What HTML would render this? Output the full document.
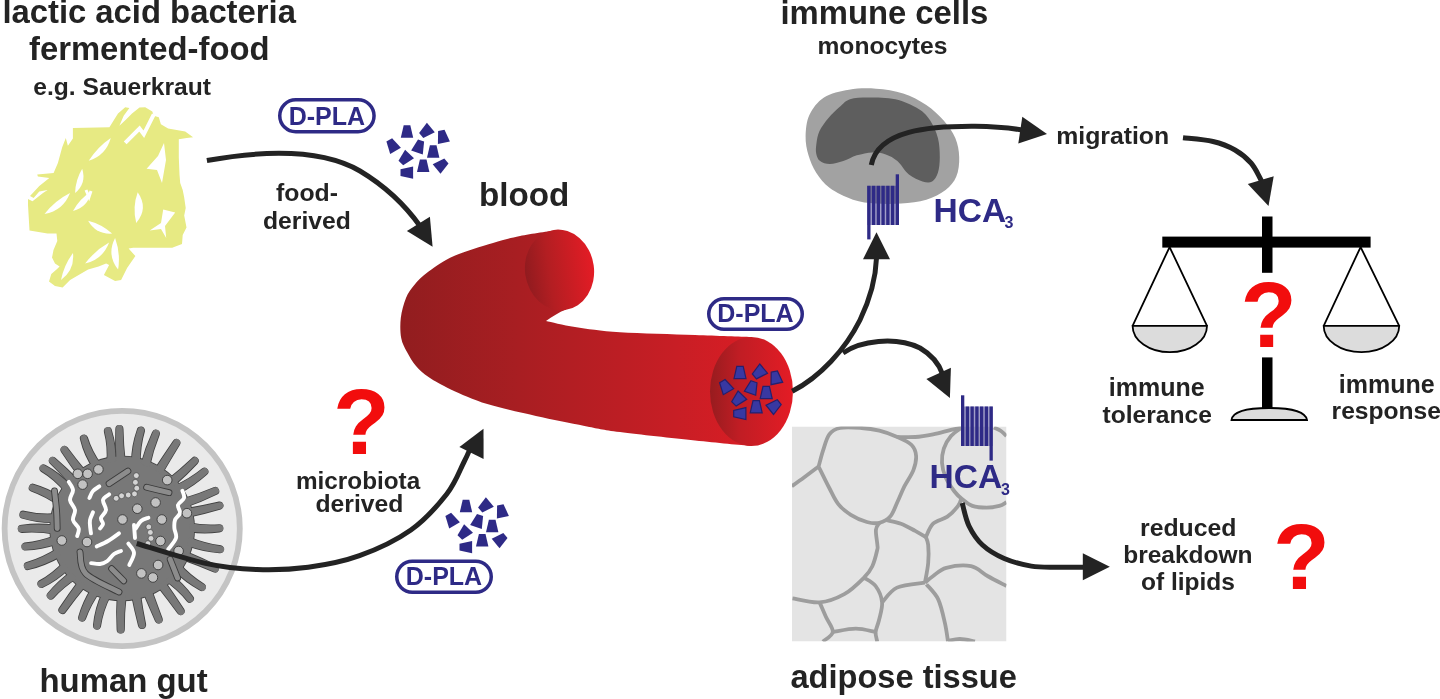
<!DOCTYPE html>
<html><head><meta charset="utf-8"><style>
html,body{margin:0;padding:0;background:#fff;width:1440px;height:699px;overflow:hidden}
svg{display:block}
text{font-family:"Liberation Sans",sans-serif;font-weight:bold}
svg{will-change:transform}
</style></head><body>
<svg width="1440" height="699" viewBox="0 0 1440 699">
<defs>
<linearGradient id="gbody" x1="400" y1="0" x2="795" y2="0" gradientUnits="userSpaceOnUse">
<stop offset="0" stop-color="#911d1f"/><stop offset="0.3" stop-color="#a81e22"/><stop offset="0.7" stop-color="#c81e25"/><stop offset="1" stop-color="#e31c24"/></linearGradient>
<linearGradient id="gcap1" x1="525" y1="0" x2="594" y2="0" gradientUnits="userSpaceOnUse">
<stop offset="0" stop-color="#901b1f"/><stop offset="0.35" stop-color="#b31e22"/><stop offset="1" stop-color="#e41c25"/></linearGradient>
<linearGradient id="gcap2" x1="710" y1="0" x2="793" y2="0" gradientUnits="userSpaceOnUse">
<stop offset="0" stop-color="#971c1f"/><stop offset="0.35" stop-color="#c01d24"/><stop offset="1" stop-color="#e41c25"/></linearGradient>
</defs>
<polygon fill="#e7ea83" points="72.9,127.9 109.4,127.2 118,113.6 125.2,107.2 129.4,107.9 123.7,115.7 119.4,125.8 125.5,120 132,113.5 139.5,107.6 145.2,107.2 152.3,111.4 153.8,115.7 158.8,117.2 160.9,124.3 168.1,128.6 185.2,131.5 193.1,137.2 186.7,137.9 178.8,139.3 178.8,157.2 179.5,174.4 180.2,183 182.7,190 184.2,197.5 185.7,208 184.2,215.5 186.5,227.6 182.7,235.1 182,244.1 172.2,247.8 133.2,247.8 128.6,248.6 135.4,256.1 127.1,268.1 121.1,280.1 115.1,280.9 103.9,274.9 109.1,265.1 106.1,263.6 98.6,266.6 88.1,269.6 70.1,280.1 62.6,287.6 55,286.1 49,281.6 51.3,274.1 56.5,269.6 59.6,266.6 55,263.6 52,257.6 53.5,250.1 57.3,241.1 56.5,233.6 47.5,233.6 29.5,230.6 28,205 28,199 32.5,201.3 43,193 47.5,190 39.3,191.6 33.6,198 30,196 39.3,186 49.3,178 37.9,176.5 37.2,174.4 53.6,173 57.9,163 62.2,147.2 65.8,137.9 67.9,145.8 72.9,138.6"/>
<path fill="#fff" d="M88.7,160.8 Q105.9,155.3 110.8,137.9 Q97.3,147.0 88.7,160.8Z"/>
<path fill="#fff" d="M44.5,214 Q63.2,210.7 70,193 Q54.9,200.6 44.5,214Z"/>
<path fill="#fff" d="M73,211 Q88.2,207.0 91,191.5 Q79.5,198.9 73,211Z"/>
<path fill="#fff" d="M136.2,223 Q148.8,208.2 137.7,192.3 Q132.2,207.4 136.2,223Z"/>
<path fill="#fff" d="M88.1,220.8 Q96.1,234.7 112.1,233.6 Q101.7,224.2 88.1,220.8Z"/>
<path fill="#fff" d="M85.1,263.6 Q102.7,259.5 109.1,242.6 Q94.9,250.5 85.1,263.6Z"/>
<path fill="#fff" d="M115.1,238 Q106.4,254.8 118.1,269.6 Q120.7,253.4 115.1,238Z"/>
<path fill="#fff" d="M61,280 Q74.8,270.0 73,253 Q63.9,265.1 61,280Z"/>
<path fill="#fff" d="M75.1,193 Q86.8,183.2 82.2,168.7 Q75.4,179.9 75.1,193Z"/>
<polyline points="125.2,142.9 139.5,128.6 143.8,134.3 153.8,114.3" fill="none" stroke="#fff" stroke-width="4" stroke-linejoin="miter"/>
<polygon fill="#fff" points="146.6,168.7 158,156 164,143 166,160 162,183 157,170"/>
<polygon fill="#fff" points="149.7,230.6 161,223 163.2,209.5 175.2,212.5 165,226 166.2,238 161,229"/>
<polyline points="86,190 89,197 91,191" fill="none" stroke="#fff" stroke-width="3"/>
<circle cx="122.2" cy="528.5" r="117.6" fill="#eaeaea" stroke="#c4c4c4" stroke-width="5.8"/>
<circle cx="122.2" cy="528.5" r="72.8" fill="#404040"/>
<path d="M125.7,461.4 Q123.8,445.3 123.5,429.1 A4.1,4.1 0 0 0 115.3,429.3 Q114.7,445.5 115.7,461.6 Z" fill="#404040"/>
<path d="M140.8,463.9 Q140.3,447.1 144.9,431.4 A4.1,4.1 0 0 0 136.8,429.7 Q131.3,445.3 131.0,461.9 Z" fill="#404040"/>
<path d="M149.9,467.3 Q153.4,450.7 159.7,435.0 A4.1,4.1 0 0 0 152.0,432.2 Q144.9,447.5 140.5,463.9 Z" fill="#404040"/>
<path d="M162.3,474.6 Q171.0,459.7 179.9,445.1 A4.1,4.1 0 0 0 173.0,440.7 Q163.3,454.9 153.9,469.3 Z" fill="#404040"/>
<path d="M174.4,486.2 Q186.5,475.7 197.5,463.9 A4.1,4.1 0 0 0 191.8,458.0 Q180.2,469.0 167.5,478.9 Z" fill="#404040"/>
<path d="M179.7,493.7 Q194.4,486.2 206.7,475.1 A4.1,4.1 0 0 0 201.9,468.4 Q189.1,478.8 173.8,485.5 Z" fill="#404040"/>
<path d="M186.1,507.6 Q201.8,502.1 216.7,494.8 A4.1,4.1 0 0 0 213.6,487.2 Q198.3,493.7 182.2,498.4 Z" fill="#404040"/>
<path d="M188.5,517.8 Q204.8,514.2 220.8,509.5 A4.1,4.1 0 0 0 218.9,501.6 Q202.7,505.4 186.2,508.1 Z" fill="#404040"/>
<path d="M189.3,532.3 Q204.3,534.6 219.3,532.4 A4.1,4.1 0 0 0 219.2,524.2 Q204.2,525.5 189.1,522.3 Z" fill="#404040"/>
<path d="M187.0,546.3 Q202.7,552.0 219.4,553.3 A4.1,4.1 0 0 0 221.0,545.3 Q204.5,543.1 188.9,536.5 Z" fill="#404040"/>
<path d="M181.6,559.9 Q197.7,565.5 213.3,572.3 A4.1,4.1 0 0 0 216.6,564.8 Q201.4,557.2 185.6,550.7 Z" fill="#404040"/>
<path d="M174.0,571.3 Q185.3,582.9 199.6,590.4 A4.1,4.1 0 0 0 204.3,583.7 Q190.6,575.5 179.8,563.1 Z" fill="#404040"/>
<path d="M164.3,580.8 Q177.2,589.6 186.8,601.4 A4.1,4.1 0 0 0 192.8,595.8 Q183.8,583.4 171.6,574.0 Z" fill="#404040"/>
<path d="M156.7,586.2 Q167.3,599.6 177.4,613.5 A4.1,4.1 0 0 0 184.1,608.8 Q174.8,594.4 164.9,580.4 Z" fill="#404040"/>
<path d="M142.5,592.5 Q148.7,606.9 155.0,621.2 A4.1,4.1 0 0 0 162.6,618.2 Q157.1,603.5 151.8,588.8 Z" fill="#404040"/>
<path d="M131.0,595.1 Q134.0,610.6 138.0,625.8 A4.1,4.1 0 0 0 146.1,624.1 Q142.9,608.7 140.8,593.1 Z" fill="#404040"/>
<path d="M116.7,595.5 Q115.6,612.4 116.6,629.4 A4.1,4.1 0 0 0 124.8,629.5 Q124.7,612.5 126.7,595.5 Z" fill="#404040"/>
<path d="M101.8,592.5 Q94.5,608.1 93.0,625.1 A4.1,4.1 0 0 0 100.9,627.0 Q103.4,610.2 111.5,594.8 Z" fill="#404040"/>
<path d="M91.0,588.0 Q82.7,601.1 78.4,615.9 A4.1,4.1 0 0 0 85.9,619.2 Q91.1,604.7 100.2,592.0 Z" fill="#404040"/>
<path d="M78.7,579.7 Q68.6,593.4 59.2,607.5 A4.1,4.1 0 0 0 65.8,612.4 Q76.0,598.7 86.8,585.6 Z" fill="#404040"/>
<path d="M70.5,571.4 Q57.8,580.5 48.0,592.5 A4.1,4.1 0 0 0 53.7,598.4 Q64.2,587.1 77.4,578.6 Z" fill="#404040"/>
<path d="M63.5,561.2 Q52.7,573.1 38.9,580.6 A4.1,4.1 0 0 0 43.4,587.4 Q57.7,580.7 69.0,569.5 Z" fill="#404040"/>
<path d="M57.8,547.5 Q43.0,557.1 26.5,562.1 A4.1,4.1 0 0 0 29.4,569.8 Q46.2,565.6 61.3,556.9 Z" fill="#404040"/>
<path d="M55.3,534.9 Q40.2,540.8 24.4,542.6 A4.1,4.1 0 0 0 25.8,550.6 Q41.8,549.8 57.0,544.8 Z" fill="#404040"/>
<path d="M55.1,524.7 Q38.4,522.5 21.8,524.7 A4.1,4.1 0 0 0 21.9,532.9 Q38.6,531.6 55.3,534.7 Z" fill="#404040"/>
<path d="M56.8,513.1 Q40.0,514.6 24.1,510.7 A4.1,4.1 0 0 0 22.8,518.8 Q38.6,523.6 55.2,523.0 Z" fill="#404040"/>
<path d="M62.8,497.1 Q49.5,488.4 34.3,484.0 A4.1,4.1 0 0 0 31.0,491.5 Q45.8,496.8 58.8,506.3 Z" fill="#404040"/>
<path d="M71.1,484.9 Q60.1,472.6 45.7,465.1 A4.1,4.1 0 0 0 40.9,471.7 Q54.8,479.9 65.2,493.0 Z" fill="#404040"/>
<path d="M77.5,478.3 Q66.9,467.6 55.4,457.7 A4.1,4.1 0 0 0 49.7,463.5 Q60.6,474.1 70.6,485.5 Z" fill="#404040"/>
<path d="M86.8,471.4 Q76.7,459.7 67.6,447.3 A4.1,4.1 0 0 0 61.0,452.1 Q69.4,465.0 78.7,477.3 Z" fill="#404040"/>
<path d="M101.8,464.5 Q92.3,451.8 87.8,437.1 A4.1,4.1 0 0 0 80.2,440.2 Q83.8,455.2 92.5,468.2 Z" fill="#404040"/>
<path d="M116.2,461.6 Q116.8,445.6 112.0,430.5 A4.1,4.1 0 0 0 103.9,431.9 Q107.8,447.1 106.3,463.2 Z" fill="#404040"/>
<circle cx="122.2" cy="528.5" r="72" fill="#787878"/>
<path d="M124.9,461.4 Q123.0,444.9 122.7,428.3 A3.3,3.3 0 0 0 116.1,428.5 Q115.5,445.1 116.5,461.6 Z" fill="#787878"/>
<path d="M140.0,463.8 Q139.6,446.6 144.2,430.4 A3.3,3.3 0 0 0 137.8,429.1 Q132.2,445.0 131.8,462.1 Z" fill="#787878"/>
<path d="M149.1,467.0 Q152.8,450.0 159.2,434.0 A3.3,3.3 0 0 0 153.0,431.7 Q145.8,447.4 141.2,464.1 Z" fill="#787878"/>
<path d="M161.7,474.2 Q170.5,459.0 179.7,444.0 A3.3,3.3 0 0 0 174.1,440.4 Q164.2,455.0 154.6,469.7 Z" fill="#787878"/>
<path d="M173.8,485.6 Q186.2,474.8 197.5,462.8 A3.3,3.3 0 0 0 193.0,458.0 Q181.1,469.4 168.1,479.5 Z" fill="#787878"/>
<path d="M179.2,493.0 Q194.3,485.3 206.8,474.0 A3.3,3.3 0 0 0 203.0,468.6 Q189.9,479.2 174.3,486.2 Z" fill="#787878"/>
<path d="M185.8,506.9 Q201.8,501.2 217.1,493.7 A3.3,3.3 0 0 0 214.6,487.6 Q199.0,494.3 182.6,499.1 Z" fill="#787878"/>
<path d="M188.3,517.0 Q205.0,513.3 221.4,508.6 A3.3,3.3 0 0 0 219.9,502.2 Q203.3,506.0 186.4,508.9 Z" fill="#787878"/>
<path d="M189.3,531.5 Q204.7,533.7 220.1,531.6 A3.3,3.3 0 0 0 220.0,525.0 Q204.6,526.2 189.1,523.1 Z" fill="#787878"/>
<path d="M187.1,545.5 Q203.3,551.3 220.3,552.7 A3.3,3.3 0 0 0 221.6,546.2 Q204.7,544.0 188.8,537.3 Z" fill="#787878"/>
<path d="M181.9,559.1 Q198.4,564.9 214.4,571.9 A3.3,3.3 0 0 0 217.0,565.8 Q201.4,558.1 185.3,551.4 Z" fill="#787878"/>
<path d="M174.5,570.6 Q186.1,582.5 200.7,590.2 A3.3,3.3 0 0 0 204.5,584.8 Q190.4,576.4 179.3,563.7 Z" fill="#787878"/>
<path d="M164.9,580.3 Q178.0,589.4 187.9,601.4 A3.3,3.3 0 0 0 192.7,596.9 Q183.5,584.2 171.1,574.5 Z" fill="#787878"/>
<path d="M157.4,585.7 Q168.2,599.5 178.5,613.7 A3.3,3.3 0 0 0 183.9,609.9 Q174.4,595.1 164.2,580.9 Z" fill="#787878"/>
<path d="M143.3,592.2 Q149.6,607.0 156.0,621.7 A3.3,3.3 0 0 0 162.1,619.2 Q156.5,604.2 151.1,589.1 Z" fill="#787878"/>
<path d="M131.8,594.9 Q134.9,610.8 139.0,626.4 A3.3,3.3 0 0 0 145.4,625.1 Q142.2,609.2 140.0,593.2 Z" fill="#787878"/>
<path d="M117.5,595.5 Q116.4,612.8 117.4,630.2 A3.3,3.3 0 0 0 124.0,630.3 Q123.9,612.9 125.9,595.5 Z" fill="#787878"/>
<path d="M102.6,592.7 Q95.2,608.7 93.6,626.1 A3.3,3.3 0 0 0 100.0,627.6 Q102.5,610.4 110.8,594.7 Z" fill="#787878"/>
<path d="M91.8,588.3 Q83.3,601.8 78.8,617.0 A3.3,3.3 0 0 0 84.9,619.6 Q90.2,604.8 99.5,591.7 Z" fill="#787878"/>
<path d="M79.4,580.2 Q69.0,594.2 59.4,608.7 A3.3,3.3 0 0 0 64.7,612.5 Q75.1,598.6 86.1,585.1 Z" fill="#787878"/>
<path d="M71.0,572.0 Q58.1,581.4 47.9,593.6 A3.3,3.3 0 0 0 52.5,598.4 Q63.3,586.8 76.9,578.0 Z" fill="#787878"/>
<path d="M63.9,561.9 Q52.8,573.9 38.7,581.7 A3.3,3.3 0 0 0 42.3,587.2 Q56.9,580.2 68.6,568.9 Z" fill="#787878"/>
<path d="M58.1,548.3 Q42.9,558.0 26.1,563.1 A3.3,3.3 0 0 0 28.4,569.3 Q45.6,565.0 61.0,556.1 Z" fill="#787878"/>
<path d="M55.5,535.7 Q40.0,541.7 23.8,543.5 A3.3,3.3 0 0 0 24.9,550.0 Q41.2,549.0 56.9,544.0 Z" fill="#787878"/>
<path d="M55.1,525.5 Q38.0,523.3 21.0,525.5 A3.3,3.3 0 0 0 21.1,532.1 Q38.1,530.8 55.3,533.9 Z" fill="#787878"/>
<path d="M56.7,513.9 Q39.5,515.3 23.2,511.4 A3.3,3.3 0 0 0 22.2,517.9 Q38.3,522.7 55.4,522.2 Z" fill="#787878"/>
<path d="M62.5,497.8 Q48.8,489.0 33.2,484.4 A3.3,3.3 0 0 0 30.6,490.4 Q45.8,495.9 59.1,505.5 Z" fill="#787878"/>
<path d="M70.6,485.6 Q59.4,473.0 44.6,465.2 A3.3,3.3 0 0 0 40.7,470.6 Q54.9,479.1 65.6,492.4 Z" fill="#787878"/>
<path d="M77.0,478.9 Q66.0,467.9 54.3,457.7 A3.3,3.3 0 0 0 49.7,462.4 Q60.8,473.2 71.1,484.9 Z" fill="#787878"/>
<path d="M86.1,471.9 Q75.9,459.8 66.5,447.1 A3.3,3.3 0 0 0 61.2,451.0 Q69.8,464.2 79.3,476.8 Z" fill="#787878"/>
<path d="M101.1,464.8 Q91.4,451.8 86.8,436.7 A3.3,3.3 0 0 0 80.7,439.1 Q84.4,454.6 93.3,467.9 Z" fill="#787878"/>
<path d="M115.4,461.7 Q115.9,445.3 111.1,429.9 A3.3,3.3 0 0 0 104.5,431.0 Q108.5,446.6 107.1,463.1 Z" fill="#787878"/>
<path d="M109.1,483.7 C112.2,481.6 124.8,473.3 127.9,471.2 " stroke="#3a3a3a" stroke-width="6.8" stroke-linecap="round" fill="none"/>
<path d="M109.1,483.7 C112.2,481.6 124.8,473.3 127.9,471.2 " stroke="#8c8c8c" stroke-width="5" stroke-linecap="round" fill="none"/>
<path d="M146.6,487.3 C150.3,488.2 165.3,491.7 169.0,492.6 " stroke="#3a3a3a" stroke-width="6.8" stroke-linecap="round" fill="none"/>
<path d="M146.6,487.3 C150.3,488.2 165.3,491.7 169.0,492.6 " stroke="#8c8c8c" stroke-width="5" stroke-linecap="round" fill="none"/>
<path d="M54.5,490.8 C54.8,494.0 56.0,503.7 56.5,510.0 C57.0,516.3 57.1,525.3 57.2,528.4 " stroke="#3a3a3a" stroke-width="6.8" stroke-linecap="round" fill="none"/>
<path d="M54.5,490.8 C54.8,494.0 56.0,503.7 56.5,510.0 C57.0,516.3 57.1,525.3 57.2,528.4 " stroke="#8c8c8c" stroke-width="5" stroke-linecap="round" fill="none"/>
<path d="M80.0,552.0 C80.9,555.6 79.1,566.7 85.6,573.4 C92.1,580.1 113.4,588.9 119.0,592.0 " stroke="#3a3a3a" stroke-width="6.8" stroke-linecap="round" fill="none"/>
<path d="M80.0,552.0 C80.9,555.6 79.1,566.7 85.6,573.4 C92.1,580.1 113.4,588.9 119.0,592.0 " stroke="#8c8c8c" stroke-width="5" stroke-linecap="round" fill="none"/>
<path d="M111.6,568.7 C113.6,570.7 121.7,578.8 123.7,580.8 " stroke="#3a3a3a" stroke-width="6.8" stroke-linecap="round" fill="none"/>
<path d="M111.6,568.7 C113.6,570.7 121.7,578.8 123.7,580.8 " stroke="#8c8c8c" stroke-width="5" stroke-linecap="round" fill="none"/>
<path d="M170.2,559.4 C171.4,562.5 176.4,574.9 177.6,578.0 " stroke="#3a3a3a" stroke-width="6.8" stroke-linecap="round" fill="none"/>
<path d="M170.2,559.4 C171.4,562.5 176.4,574.9 177.6,578.0 " stroke="#8c8c8c" stroke-width="5" stroke-linecap="round" fill="none"/>
<path d="M68.8,481.9 C69.5,483.2 72.8,487.0 73.0,490.0 C73.2,493.0 69.7,496.7 70.0,500.0 C70.3,503.3 74.5,506.7 75.0,510.0 C75.5,513.3 72.4,516.9 73.0,520.0 C73.6,523.1 78.0,525.7 78.7,528.4 C79.4,531.1 77.5,534.7 77.2,536.0 " stroke="#fff" stroke-width="3.9" stroke-linecap="round" fill="none"/>
<path d="M89.4,498.0 C90.0,496.8 91.3,492.9 93.0,491.0 C94.7,489.1 98.2,487.2 99.3,486.4 " stroke="#fff" stroke-width="3.9" stroke-linecap="round" fill="none"/>
<path d="M109.1,494.4 C108.1,495.3 103.5,497.4 103.0,500.0 C102.5,502.6 106.3,507.0 106.0,510.0 C105.7,513.0 101.5,515.7 101.0,518.0 C100.5,520.3 103.2,522.3 103.0,524.0 C102.8,525.7 100.6,527.7 100.1,528.4 " stroke="#fff" stroke-width="3.9" stroke-linecap="round" fill="none"/>
<path d="M93.0,512.3 C92.5,513.6 90.5,517.3 90.0,520.0 C89.5,522.7 90.1,526.2 90.3,528.4 C90.5,530.6 90.9,532.6 91.0,533.4 " stroke="#fff" stroke-width="3.9" stroke-linecap="round" fill="none"/>
<path d="M182.4,490.8 C182.7,492.0 184.7,495.6 184.0,498.0 C183.3,500.4 178.7,502.5 178.0,505.0 C177.3,507.5 180.5,510.5 180.0,513.0 C179.5,515.5 175.9,517.4 175.0,520.0 C174.1,522.6 174.2,525.4 174.4,528.4 C174.6,531.4 177.0,534.5 176.0,538.0 C175.0,541.5 169.6,547.3 168.3,549.2 " stroke="#fff" stroke-width="3.9" stroke-linecap="round" fill="none"/>
<path d="M135.9,528.4 C136.8,527.2 138.9,522.8 141.0,521.0 C143.1,519.2 147.2,518.2 148.4,517.7 " stroke="#fff" stroke-width="3.9" stroke-linecap="round" fill="none"/>
<path d="M96.7,546.4 C98.6,545.5 104.3,543.2 108.0,541.0 C111.7,538.8 117.2,534.7 119.0,533.4 " stroke="#fff" stroke-width="3.9" stroke-linecap="round" fill="none"/>
<path d="M91.1,563.1 C92.6,563.2 97.3,564.3 100.0,564.0 C102.7,563.7 104.7,563.0 107.0,561.3 C109.3,559.6 111.7,555.7 114.0,554.0 C116.3,552.3 119.8,551.5 121.0,551.0 " stroke="#fff" stroke-width="3.9" stroke-linecap="round" fill="none"/>
<path d="M128.3,543.6 C129.2,545.1 133.8,549.3 134.0,552.9 C134.2,556.5 130.1,563.0 129.3,565.0 " stroke="#fff" stroke-width="3.9" stroke-linecap="round" fill="none"/>
<path d="M134.0,525.0 C134.2,527.2 134.8,535.8 135.0,538.0 " stroke="#fff" stroke-width="3.9" stroke-linecap="round" fill="none"/>
<circle cx="77.8" cy="473.8" r="4.8" fill="#c2c2c2" stroke="#3a3a3a" stroke-width="0.9"/>
<circle cx="87.6" cy="473.8" r="4.8" fill="#c2c2c2" stroke="#3a3a3a" stroke-width="0.9"/>
<circle cx="98.4" cy="469.4" r="4.8" fill="#c2c2c2" stroke="#3a3a3a" stroke-width="0.9"/>
<circle cx="82.6" cy="484.6" r="4.8" fill="#c2c2c2" stroke="#3a3a3a" stroke-width="0.9"/>
<circle cx="167.2" cy="480.1" r="4.8" fill="#c2c2c2" stroke="#3a3a3a" stroke-width="0.9"/>
<circle cx="155.6" cy="502.5" r="4.8" fill="#c2c2c2" stroke="#3a3a3a" stroke-width="0.9"/>
<circle cx="137.3" cy="508.7" r="4.8" fill="#c2c2c2" stroke="#3a3a3a" stroke-width="0.9"/>
<circle cx="122.5" cy="519.5" r="4.8" fill="#c2c2c2" stroke="#3a3a3a" stroke-width="0.9"/>
<circle cx="161.8" cy="519.5" r="4.8" fill="#c2c2c2" stroke="#3a3a3a" stroke-width="0.9"/>
<circle cx="186.9" cy="513.2" r="4.8" fill="#c2c2c2" stroke="#3a3a3a" stroke-width="0.9"/>
<circle cx="61.8" cy="540.5" r="4.8" fill="#c2c2c2" stroke="#3a3a3a" stroke-width="0.9"/>
<circle cx="87" cy="542" r="4.8" fill="#c2c2c2" stroke="#3a3a3a" stroke-width="0.9"/>
<circle cx="160.5" cy="541" r="4.8" fill="#c2c2c2" stroke="#3a3a3a" stroke-width="0.9"/>
<circle cx="178.6" cy="551" r="4.8" fill="#c2c2c2" stroke="#3a3a3a" stroke-width="0.9"/>
<circle cx="158.1" cy="565" r="4.8" fill="#c2c2c2" stroke="#3a3a3a" stroke-width="0.9"/>
<circle cx="141.4" cy="573.4" r="4.8" fill="#c2c2c2" stroke="#3a3a3a" stroke-width="0.9"/>
<circle cx="152.9" cy="577.5" r="4.8" fill="#c2c2c2" stroke="#3a3a3a" stroke-width="0.9"/>
<circle cx="136.3" cy="475.6" r="2.9" fill="#d4d4d4" stroke="#3a3a3a" stroke-width="0.6"/>
<circle cx="135.4" cy="482.3" r="2.9" fill="#d4d4d4" stroke="#3a3a3a" stroke-width="0.6"/>
<circle cx="136.8" cy="488.2" r="2.9" fill="#d4d4d4" stroke="#3a3a3a" stroke-width="0.6"/>
<circle cx="134.5" cy="493.9" r="2.9" fill="#d4d4d4" stroke="#3a3a3a" stroke-width="0.6"/>
<circle cx="128.2" cy="495" r="2.9" fill="#d4d4d4" stroke="#3a3a3a" stroke-width="0.6"/>
<circle cx="121.6" cy="495.8" r="2.9" fill="#d4d4d4" stroke="#3a3a3a" stroke-width="0.6"/>
<circle cx="116.2" cy="498.3" r="2.9" fill="#d4d4d4" stroke="#3a3a3a" stroke-width="0.6"/>
<circle cx="148.8" cy="526.9" r="2.9" fill="#d4d4d4" stroke="#3a3a3a" stroke-width="0.6"/>
<circle cx="150.3" cy="532.4" r="2.9" fill="#d4d4d4" stroke="#3a3a3a" stroke-width="0.6"/>
<circle cx="151" cy="538.4" r="2.9" fill="#d4d4d4" stroke="#3a3a3a" stroke-width="0.6"/>
<circle cx="147.9" cy="543.6" r="2.9" fill="#d4d4d4" stroke="#3a3a3a" stroke-width="0.6"/>
<rect x="792" y="426.5" width="214.5" height="215" fill="#e4e4e4"/>
<path d="M791.8,486.2 C793.9,484.7 799.8,480.5 804.3,477.2 C808.8,473.9 816.2,468.3 818.6,466.5 " stroke="#9d9d9d" stroke-width="3.8" fill="none" stroke-linejoin="round"/>
<path d="M818.6,466.5 C819.4,463.8 821.3,455.8 823.1,450.4 C824.9,445.0 826.5,438.0 829.3,434.3 C832.1,430.6 834.7,429.1 840.1,428.0 C845.5,426.9 855.0,427.6 861.5,428.0 C868.0,428.4 873.4,429.2 879.4,430.7 C885.4,432.2 891.9,434.6 897.3,437.0 C902.7,439.4 908.5,441.9 911.6,445.0 C914.7,448.1 915.8,451.6 916.1,455.8 C916.4,460.0 915.3,465.0 913.4,470.1 C911.5,475.2 907.2,480.8 904.5,486.2 C901.8,491.6 899.7,497.2 897.3,502.3 C894.9,507.4 893.2,513.2 890.2,516.6 C887.2,520.0 883.3,521.9 879.4,522.8 C875.5,523.7 871.7,523.3 866.9,522.0 C862.1,520.7 855.6,517.8 850.8,514.8 C846.0,511.8 841.9,508.6 838.3,504.1 C834.7,499.6 832.6,494.3 829.3,488.0 C826.0,481.7 820.4,470.1 818.6,466.5 " stroke="#9d9d9d" stroke-width="3.8" fill="none" stroke-linejoin="round"/>
<path d="M879.4,522.8 C878.8,524.0 876.2,526.3 875.9,530.0 C875.6,533.7 877.2,541.7 877.4,545.0 C877.6,548.3 878.1,546.5 877.2,550.0 C876.4,553.5 874.5,561.6 872.3,566.2 C870.1,570.8 868.7,573.0 864.0,577.7 C859.3,582.4 851.7,590.1 844.3,594.2 C836.9,598.3 828.2,601.7 819.6,602.4 C811.0,603.1 797.0,599.0 792.5,598.3 " stroke="#9d9d9d" stroke-width="3.8" fill="none" stroke-linejoin="round"/>
<path d="M886.6,520.2 C889.0,520.8 896.1,521.9 900.9,523.7 C905.7,525.5 911.0,528.7 915.2,530.9 C919.4,533.1 924.1,536.0 925.9,537.0 " stroke="#9d9d9d" stroke-width="3.8" fill="none" stroke-linejoin="round"/>
<path d="M925.9,537.0 C927.1,534.8 929.5,527.1 933.1,523.7 C936.7,520.3 943.2,519.6 947.4,516.6 C951.6,513.6 955.7,509.1 958.1,505.9 C960.5,502.7 961.1,498.9 961.7,497.5 " stroke="#9d9d9d" stroke-width="3.8" fill="none" stroke-linejoin="round"/>
<path d="M925.9,537.0 C926.3,538.3 927.8,540.7 928.2,545.0 C928.6,549.3 928.8,556.6 928.2,562.9 C927.7,569.2 925.5,579.4 924.9,582.7 " stroke="#9d9d9d" stroke-width="3.8" fill="none" stroke-linejoin="round"/>
<path d="M897.3,437.0 C900.3,437.0 909.2,437.4 915.2,437.0 C921.2,436.6 927.1,435.5 933.1,434.3 C939.1,433.1 946.2,430.9 951.0,429.8 C955.8,428.7 959.9,428.0 961.7,427.6 " stroke="#9d9d9d" stroke-width="3.8" fill="none" stroke-linejoin="round"/>
<path d="M961.7,427.6 C959.9,429.0 954.0,432.6 951.0,436.1 C948.0,439.6 945.3,444.1 943.8,448.6 C942.3,453.1 941.7,458.1 942.0,462.9 C942.3,467.7 943.5,472.4 945.6,477.2 C947.7,482.0 951.8,487.9 954.5,491.5 C957.2,495.1 958.7,496.3 961.7,498.7 C964.7,501.1 968.2,504.4 972.4,505.9 C976.6,507.4 982.2,507.6 986.7,507.6 C991.2,507.6 996.0,506.8 999.3,505.9 C1002.6,505.0 1005.2,502.9 1006.4,502.3 " stroke="#9d9d9d" stroke-width="3.8" fill="none" stroke-linejoin="round"/>
<path d="M993.9,427.6 C995.1,428.2 998.9,429.6 1001.0,431.0 C1003.1,432.4 1005.5,435.2 1006.4,436.1 " stroke="#9d9d9d" stroke-width="3.8" fill="none" stroke-linejoin="round"/>
<path d="M864.0,577.7 C865.9,579.1 872.6,581.9 875.6,586.0 C878.6,590.1 881.6,596.6 882.1,602.4 C882.6,608.1 880.0,615.6 878.9,620.5 C877.8,625.4 875.9,628.5 875.6,632.0 C875.3,635.5 876.9,639.9 877.2,641.5 " stroke="#9d9d9d" stroke-width="3.8" fill="none" stroke-linejoin="round"/>
<path d="M819.6,602.4 C820.7,604.8 823.8,612.1 826.0,617.0 C828.2,621.9 833.3,627.9 832.8,632.0 C832.3,636.1 824.5,639.9 822.9,641.5 " stroke="#9d9d9d" stroke-width="3.8" fill="none" stroke-linejoin="round"/>
<path d="M832.8,632.0 C836.6,631.5 848.7,628.7 855.8,628.7 C862.9,628.7 872.3,631.5 875.6,632.0 " stroke="#9d9d9d" stroke-width="3.8" fill="none" stroke-linejoin="round"/>
<path d="M882.1,602.4 C884.6,599.9 889.9,590.9 897.0,587.6 C904.1,584.3 920.2,583.5 924.9,582.7 " stroke="#9d9d9d" stroke-width="3.8" fill="none" stroke-linejoin="round"/>
<path d="M924.9,582.7 C926.3,581.6 929.6,578.5 933.2,576.0 C936.8,573.5 940.0,569.4 946.3,567.8 C952.6,566.2 964.1,564.8 971.0,566.2 C977.9,567.6 981.6,572.7 987.5,576.0 C993.4,579.3 1003.2,584.3 1006.4,586.0 " stroke="#9d9d9d" stroke-width="3.8" fill="none" stroke-linejoin="round"/>
<path d="M926.5,584.3 C928.4,586.8 935.1,592.8 938.1,599.1 C941.1,605.4 943.1,615.1 944.7,622.2 C946.4,629.3 947.5,638.3 948.0,641.5 " stroke="#9d9d9d" stroke-width="3.8" fill="none" stroke-linejoin="round"/>
<path d="M948.0,641.0 C950.0,640.7 955.5,638.9 960.0,639.0 C964.5,639.1 972.5,641.1 975.0,641.5 " stroke="#9d9d9d" stroke-width="3.8" fill="none" stroke-linejoin="round"/>
<rect x="790" y="641.5" width="220" height="8" fill="#fff"/><rect x="1006.5" y="424" width="8" height="220" fill="#fff"/><rect x="786" y="424" width="6" height="220" fill="#fff"/><rect x="786" y="420" width="225" height="6.5" fill="#fff"/>
<path d="M805.6,136.0 C805.8,129.2 806.4,121.2 809.5,114.8 C812.6,108.4 817.4,101.6 824.0,97.4 C830.6,93.2 840.3,91.2 849.0,89.7 C857.7,88.2 867.0,88.1 876.0,88.7 C885.0,89.3 894.8,90.8 903.2,93.5 C911.6,96.2 919.5,100.6 926.3,105.1 C933.0,109.6 938.9,115.1 943.7,120.6 C948.5,126.1 952.7,131.9 955.3,138.0 C957.9,144.1 959.0,150.8 959.2,157.2 C959.4,163.6 958.6,171.1 956.3,176.6 C954.0,182.1 950.6,186.2 945.6,190.0 C940.6,193.8 933.7,197.4 926.3,199.7 C918.9,202.0 909.6,202.9 901.2,203.6 C892.8,204.2 884.0,204.2 876.0,203.6 C868.0,202.9 860.7,202.3 853.0,199.7 C845.3,197.1 835.9,192.6 829.8,188.1 C823.7,183.6 819.8,178.2 816.2,172.7 C812.7,167.2 810.3,161.4 808.5,155.3 C806.7,149.2 805.4,142.8 805.6,136.0 Z" fill="#a2a2a2"/>
<path d="M816.4,143.7 C816.9,140.0 817.5,135.3 819.5,131.0 C821.5,126.7 825.2,122.0 828.5,118.0 C831.8,114.0 835.9,110.1 839.5,107.0 C843.1,103.9 845.2,100.8 850.0,99.2 C854.8,97.6 860.8,97.4 868.4,97.4 C876.0,97.4 887.0,97.4 895.4,99.3 C903.8,101.2 912.8,105.5 918.6,109.0 C924.4,112.5 927.0,115.8 930.2,120.6 C933.4,125.4 936.3,131.9 937.9,138.0 C939.5,144.1 939.8,151.4 939.8,157.2 C939.8,163.0 939.2,168.7 937.9,172.7 C936.6,176.7 934.7,179.9 932.1,181.4 C929.5,182.9 926.4,182.5 922.5,181.4 C918.6,180.3 913.1,178.0 908.9,174.6 C904.7,171.2 901.2,164.5 897.4,161.1 C893.5,157.7 890.0,155.8 885.8,154.4 C881.6,153.0 877.1,152.2 872.3,152.4 C867.5,152.6 861.6,153.9 856.8,155.3 C852.0,156.8 847.8,159.7 843.3,161.1 C838.8,162.5 833.7,164.0 829.8,164.0 C825.9,164.0 822.4,162.9 820.1,161.1 C817.8,159.3 816.8,156.3 816.2,153.4 C815.6,150.5 815.9,147.4 816.4,143.7 Z" fill="#5e5e5e"/>
<path fill="url(#gbody)" d="M557.0,230.0 C550.8,231.0 530.7,233.8 520.0,236.0 C509.3,238.2 504.0,239.7 493.0,243.0 C482.0,246.3 464.7,251.2 454.0,256.0 C443.3,260.8 435.2,266.7 428.6,271.5 C422.0,276.3 418.1,280.5 414.3,284.9 C410.5,289.3 408.2,292.5 406.0,298.0 C403.8,303.5 401.6,311.3 400.8,318.0 C400.0,324.7 400.2,332.3 401.2,338.0 C402.2,343.7 404.5,347.3 407.0,352.0 C409.5,356.7 412.4,361.8 416.0,366.0 C419.6,370.2 423.1,373.4 428.9,377.3 C434.7,381.2 441.1,384.9 450.8,389.4 C460.5,393.8 473.1,399.6 487.3,404.0 C501.5,408.4 519.7,412.4 535.9,416.0 C552.1,419.6 570.5,423.2 584.5,425.9 C598.5,428.6 601.6,429.6 620.0,432.0 C638.4,434.4 673.2,438.2 695.0,440.5 C716.8,442.8 741.7,445.1 751.0,446.0  L751,337 C741.7,336.7 716.8,335.8 695.0,335.0 C673.2,334.2 640.0,333.6 620.0,332.3 C600.0,331.0 587.3,328.9 575.0,327.0 C562.7,325.1 550.8,322.0 546.0,321.0  C552,317 559,312 566,309.5 L559.5,270 Z"/>
<ellipse cx="559.5" cy="270" rx="34.5" ry="40.5" fill="url(#gcap1)" transform="rotate(-8 559.5 270)"/>
<ellipse cx="751.5" cy="391.5" rx="41.5" ry="54.5" fill="url(#gcap2)"/>
<polygon fill="#2e2a86" points="403.7,125.2 410.3,125.2 413.2,137.8 400.8,137.8"/>
<polygon fill="#2e2a86" points="423.3,138.1 419.1,133.0 426.9,122.7 434.8,132.2"/>
<polygon fill="#2e2a86" points="438.1,131.0 444.5,129.7 449.9,141.4 437.9,143.9"/>
<polygon fill="#2e2a86" points="386.4,141.6 392.1,138.3 400.9,147.8 390.2,153.9"/>
<polygon fill="#2e2a86" points="418.0,139.5 424.1,141.6 422.8,154.5 411.1,150.4"/>
<polygon fill="#2e2a86" points="429.9,145.2 436.5,145.2 439.4,157.8 427.0,157.8"/>
<polygon fill="#2e2a86" points="403.2,165.3 398.5,160.8 405.1,149.7 414.0,158.3"/>
<polygon fill="#2e2a86" points="419.9,159.5 426.5,159.5 429.4,172.1 417.0,172.1"/>
<polygon fill="#2e2a86" points="444.3,158.5 448.5,163.6 440.5,173.8 432.7,164.2"/>
<polygon fill="#2e2a86" points="400.5,175.9 400.5,169.3 413.1,166.4 413.1,178.8"/>
<polygon fill="#2e2a86" points="462.7,499.7 469.3,499.7 472.2,512.3 459.8,512.3"/>
<polygon fill="#2e2a86" points="482.3,512.6 478.1,507.5 485.9,497.2 493.8,506.7"/>
<polygon fill="#2e2a86" points="497.1,505.5 503.5,504.2 508.9,515.9 496.9,518.4"/>
<polygon fill="#2e2a86" points="445.4,516.1 451.1,512.8 459.9,522.3 449.2,528.4"/>
<polygon fill="#2e2a86" points="477.0,514.0 483.1,516.1 481.8,529.0 470.1,524.9"/>
<polygon fill="#2e2a86" points="488.9,519.7 495.5,519.7 498.4,532.3 486.0,532.3"/>
<polygon fill="#2e2a86" points="462.2,539.8 457.5,535.3 464.1,524.2 473.0,532.8"/>
<polygon fill="#2e2a86" points="478.9,534.0 485.5,534.0 488.4,546.6 476.0,546.6"/>
<polygon fill="#2e2a86" points="503.3,533.0 507.5,538.1 499.5,548.3 491.7,538.7"/>
<polygon fill="#2e2a86" points="459.5,550.4 459.5,543.8 472.1,540.9 472.1,553.3"/>
<polygon fill="#3838a2" stroke="#24206e" stroke-width="1.2" points="736.8,366.4 743.2,366.4 746.0,378.6 734.0,378.6"/>
<polygon fill="#3838a2" stroke="#24206e" stroke-width="1.2" points="756.4,378.9 752.3,374.0 759.8,364.0 767.5,373.2"/>
<polygon fill="#3838a2" stroke="#24206e" stroke-width="1.2" points="771.2,372.2 777.4,370.9 782.7,382.2 771.0,384.7"/>
<polygon fill="#3838a2" stroke="#24206e" stroke-width="1.2" points="719.6,382.7 725.1,379.5 733.6,388.7 723.3,394.7"/>
<polygon fill="#3838a2" stroke="#24206e" stroke-width="1.2" points="751.0,380.7 757.0,382.8 755.7,395.2 744.4,391.3"/>
<polygon fill="#3838a2" stroke="#24206e" stroke-width="1.2" points="763.0,386.4 769.4,386.4 772.2,398.6 760.2,398.6"/>
<polygon fill="#3838a2" stroke="#24206e" stroke-width="1.2" points="736.2,406.1 731.7,401.7 738.1,391.0 746.7,399.3"/>
<polygon fill="#3838a2" stroke="#24206e" stroke-width="1.2" points="753.0,400.7 759.4,400.7 762.2,412.9 750.2,412.9"/>
<polygon fill="#3838a2" stroke="#24206e" stroke-width="1.2" points="777.2,399.7 781.2,404.6 773.5,414.5 766.0,405.2"/>
<polygon fill="#3838a2" stroke="#24206e" stroke-width="1.2" points="733.7,416.8 733.7,410.4 745.9,407.6 745.9,419.6"/>
<rect x="279.75" y="99.75" width="94.30000000000001" height="32.0" rx="16.0" ry="16.0" fill="#fff" stroke="#2e2a86" stroke-width="3.5"/>
<text x="326.9" y="124.7" font-size="25" fill="#2e2a86" text-anchor="middle" font-family="Liberation Sans, sans-serif" font-weight="bold">D-PLA</text>
<rect x="708.75" y="298.75" width="93.5" height="30.5" rx="15.25" ry="15.25" fill="#fff" stroke="#2e2a86" stroke-width="3.5"/>
<text x="755.5" y="322.2" font-size="25" fill="#2e2a86" text-anchor="middle" font-family="Liberation Sans, sans-serif" font-weight="bold">D-PLA</text>
<rect x="396.75" y="561.25" width="94.5" height="31.0" rx="15.5" ry="15.5" fill="#fff" stroke="#2e2a86" stroke-width="3.5"/>
<text x="444.0" y="585.2" font-size="25" fill="#2e2a86" text-anchor="middle" font-family="Liberation Sans, sans-serif" font-weight="bold">D-PLA</text>
<rect x="867.2" y="185.8" width="31.8" height="39.19999999999999" fill="#2e2a86" fill-opacity="0.45"/>
<rect x="867.20" y="185.8" width="3.3" height="53.599999999999994" fill="#2e2a86"/>
<rect x="871.95" y="185.8" width="3.3" height="39.19999999999999" fill="#2e2a86"/>
<rect x="876.70" y="185.8" width="3.3" height="39.19999999999999" fill="#2e2a86"/>
<rect x="881.45" y="185.8" width="3.3" height="39.19999999999999" fill="#2e2a86"/>
<rect x="886.20" y="185.8" width="3.3" height="39.19999999999999" fill="#2e2a86"/>
<rect x="890.95" y="185.8" width="3.3" height="39.19999999999999" fill="#2e2a86"/>
<rect x="895.70" y="174.3" width="3.3" height="50.69999999999999" fill="#2e2a86"/>
<rect x="961.0" y="406.5" width="31.8" height="39.5" fill="#2e2a86" fill-opacity="0.45"/>
<rect x="961.00" y="395.3" width="3.3" height="50.69999999999999" fill="#2e2a86"/>
<rect x="965.75" y="406.5" width="3.3" height="39.5" fill="#2e2a86"/>
<rect x="970.50" y="406.5" width="3.3" height="39.5" fill="#2e2a86"/>
<rect x="975.25" y="406.5" width="3.3" height="39.5" fill="#2e2a86"/>
<rect x="980.00" y="406.5" width="3.3" height="39.5" fill="#2e2a86"/>
<rect x="984.75" y="406.5" width="3.3" height="39.5" fill="#2e2a86"/>
<rect x="989.50" y="406.5" width="3.3" height="54.10000000000002" fill="#2e2a86"/>
<rect x="1162.3" y="236.6" width="208.3" height="11" fill="#000"/>
<rect x="1262" y="216.5" width="10.5" height="56.3" fill="#000"/>
<rect x="1262" y="357.4" width="10.5" height="52" fill="#000"/>
<path d="M1231.5,420 Q1233,408 1269,408 Q1305,408 1307,420 Z" fill="#dcdcdc" stroke="#000" stroke-width="1.8"/>
<path d="M1132.6,325.9 L1169.6,247 L1207,325.9" fill="none" stroke="#000" stroke-width="1.8"/>
<path d="M1132.6,325.9 A37.200000000000045,26.3 0 0 0 1207,325.9 Z" fill="#dcdcdc" stroke="#000" stroke-width="1.8"/>
<path d="M1323.7,325.9 L1360.6,247 L1399.2,325.9" fill="none" stroke="#000" stroke-width="1.8"/>
<path d="M1323.7,325.9 A37.75,26.3 0 0 0 1399.2,325.9 Z" fill="#dcdcdc" stroke="#000" stroke-width="1.8"/>
<path d="M206.9,160.5 C260,151 320,148 360,171 C385,186 405,205 420,226" fill="none" stroke="#232323" stroke-width="5"/>
<polygon fill="#232323" points="432.6,246.8 406.9,230.9 429.9,216.7"/>
<path d="M136.7,543.5 C148.1,546.8 185.4,559.0 205.4,563.4 C225.4,567.8 239.7,569.0 256.8,569.6 C273.9,570.2 291.1,569.6 308.2,567.3 C325.3,565.0 342.4,561.9 359.5,555.7 C376.6,549.5 396.3,540.3 410.9,530.0 C425.4,519.7 437.9,505.3 446.8,494.0 C455.7,482.7 460.1,469.5 464.0,462.0 C467.9,454.5 469.0,451.2 470.0,449.0 " fill="none" stroke="#232323" stroke-width="5"/>
<polygon fill="#232323" points="483.5,428.8 483.6,459.0 459.4,447.0"/>
<path d="M792.2,391.3 C820,377 845,350 860,320 C872,295 876,272 876.5,258" fill="none" stroke="#232323" stroke-width="5"/>
<polygon fill="#232323" points="876.5,232.2 890.0,259.2 863.0,259.2"/>
<path d="M843,353 C860,341 895,336 920,348 C932,355 939,364 942.5,374" fill="none" stroke="#232323" stroke-width="5"/>
<polygon fill="#232323" points="949.9,398.0 926.4,379.1 950.9,367.8"/>
<path d="M871.3,165 C878,130 930,126 975,126.3 C995,126.5 1010,128 1022,130" fill="none" stroke="#232323" stroke-width="5"/>
<polygon fill="#232323" points="1047.0,134.0 1018.3,143.4 1022.3,116.7"/>
<path d="M1183.0,137.8 C1188.0,138.4 1204.3,139.5 1213.0,141.5 C1221.7,143.5 1228.7,146.4 1235.0,150.0 C1241.3,153.6 1246.8,158.3 1251.0,163.0 C1255.2,167.7 1257.9,174.2 1260.0,178.0 C1262.1,181.8 1262.9,184.7 1263.5,186.0 " fill="none" stroke="#232323" stroke-width="5"/>
<polygon fill="#232323" points="1268.5,206.0 1247.8,184.0 1273.7,176.3"/>
<path d="M962.2,503.0 C963.3,506.8 965.6,519.0 969.0,526.0 C972.4,533.0 976.6,539.6 982.5,545.0 C988.4,550.4 996.1,555.0 1004.2,558.5 C1012.3,562.0 1022.3,564.6 1031.3,566.1 C1040.3,567.6 1049.0,567.0 1058.3,567.2 C1067.6,567.4 1082.2,567.2 1087.0,567.2 " fill="none" stroke="#232323" stroke-width="5"/>
<polygon fill="#232323" points="1109.8,566.7 1082.8,580.2 1082.8,553.2"/>
<g font-family="Liberation Sans, sans-serif" font-weight="bold" fill="#f20d0d">
<text x="333" y="453.5" font-size="93" fill="#f20d0d" >?</text>
<text x="1240.5" y="347" font-size="92" fill="#f20d0d" >?</text>
<text x="1273" y="588.5" font-size="93" fill="#f20d0d" >?</text>
</g>
<g font-family="Liberation Sans, sans-serif" font-weight="bold" fill="#2e2a86">
<text x="933.5" y="221.9" font-size="33.5" fill="#2e2a86">HCA</text>
<text x="1004.5" y="227.8" font-size="16" fill="#2e2a86">3</text>
<text x="929.5" y="488.1" font-size="33.5" fill="#2e2a86">HCA</text>
<text x="1001" y="495" font-size="16" fill="#2e2a86">3</text>
</g>
<g font-family="Liberation Sans, sans-serif" font-weight="bold">
<text x="2.4" y="23.3" font-size="32.8" fill="#232323" >lactic acid bacteria</text>
<text x="29" y="60" font-size="32.8" fill="#232323" >fermented-food</text>
<text x="33.3" y="94.9" font-size="24.6" fill="#232323" >e.g. Sauerkraut</text>
<text x="276" y="200.8" font-size="24.8" fill="#232323" >food-</text>
<text x="263" y="228.5" font-size="24.7" fill="#232323" >derived</text>
<text x="479" y="206" font-size="33.2" fill="#232323" >blood</text>
<text x="296" y="488.6" font-size="24.3" fill="#232323" >microbiota</text>
<text x="315.5" y="512" font-size="24.7" fill="#232323" >derived</text>
<text x="39.5" y="692.2" font-size="32.9" fill="#232323" >human gut</text>
<text x="780.5" y="23.7" font-size="32.8" fill="#232323" >immune cells</text>
<text x="817.5" y="54.2" font-size="24.6" fill="#232323" >monocytes</text>
<text x="1056.2" y="143.9" font-size="24.8" fill="#232323" >migration</text>
<text x="1108.8" y="396.4" font-size="25" fill="#232323" >immune</text>
<text x="1102.5" y="423.2" font-size="24.6" fill="#232323" >tolerance</text>
<text x="1338.8" y="392.8" font-size="25" fill="#232323" >immune</text>
<text x="1331.6" y="419.1" font-size="24.6" fill="#232323" >response</text>
<text x="1140" y="536.3" font-size="24.8" fill="#232323" >reduced</text>
<text x="1123.2" y="563.2" font-size="24.5" fill="#232323" >breakdown</text>
<text x="1141" y="590.2" font-size="24.5" fill="#232323" >of lipids</text>
<text x="790.5" y="688" font-size="32.6" fill="#232323" >adipose tissue</text>
</g>
</svg>
</body></html>
